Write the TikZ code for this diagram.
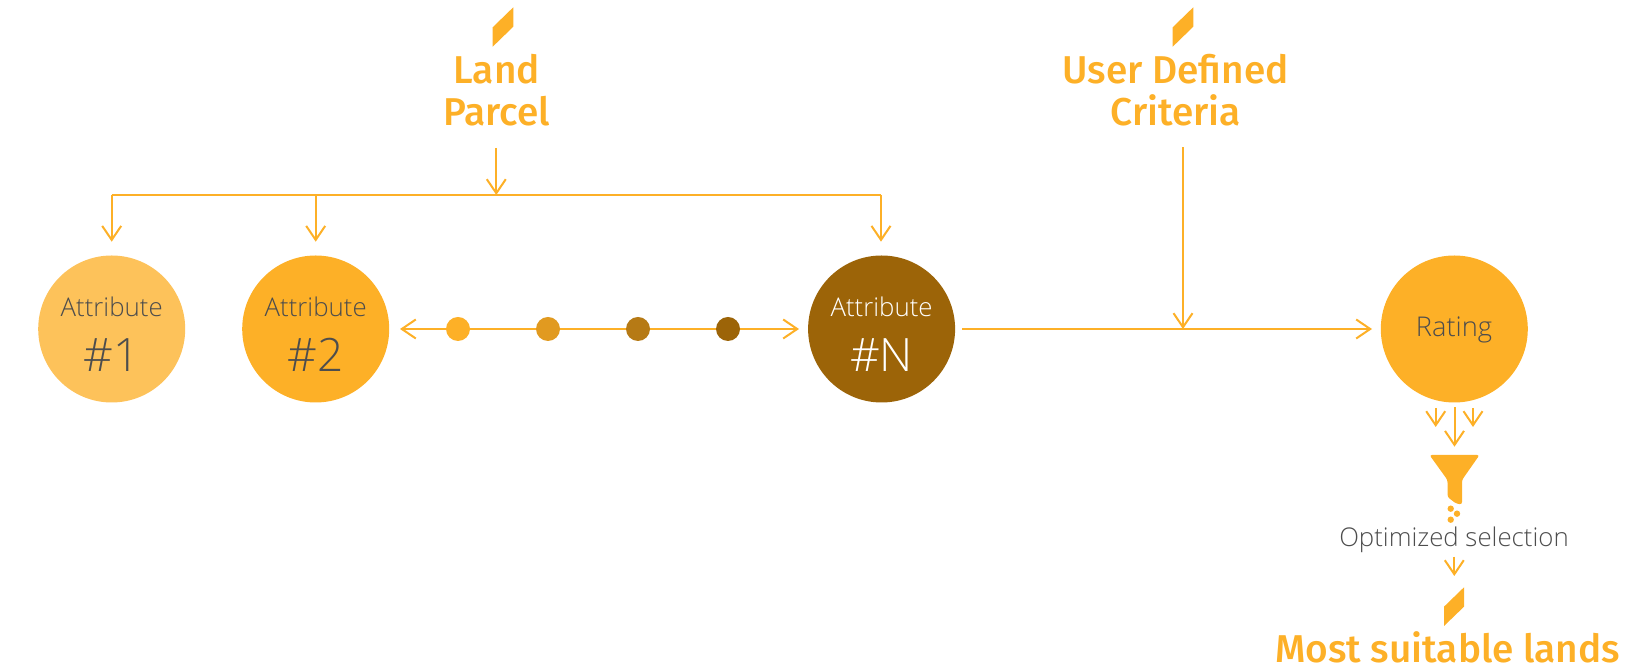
\documentclass[tikz,border=0pt]{standalone}
\usepackage{fontspec}
\setmainfont{Open Sans}
\newfontfamily\lightf{Open Sans Light}
\newfontfamily\medf{Fira Sans Medium}
\usetikzlibrary{arrows.meta}
\definecolor{org}{HTML}{FDB027}
\definecolor{lorg}{HTML}{FDC25A}
\definecolor{brn}{HTML}{9C6408}
\definecolor{dot2}{HTML}{E19A20}
\definecolor{dot3}{HTML}{B67A15}
\definecolor{txt}{HTML}{4D4D4D}
\tikzset{
  link/.style={draw=org,line width=1pt,-{Straight Barb[length=7pt,width=9.5pt,line width=1pt]}},
  plain/.style={draw=org,line width=1pt},
  dblink/.style={draw=org,line width=1pt,{Straight Barb[length=7pt,width=9.5pt,line width=1pt]}-{Straight Barb[length=7pt,width=9.5pt,line width=1pt]}},
  disc/.style={circle,minimum size=73.5pt,inner sep=0pt,outer sep=0pt},
  dotn/.style={circle,minimum size=12pt,inner sep=0pt,outer sep=0pt},
  small/.style={font=\lightf\fontsize{12.9}{14}\selectfont,text=txt,inner sep=0pt},
  big/.style={font=\lightf\fontsize{23}{26}\selectfont,text=txt,inner sep=0pt},
  head/.style={font=\medf\fontsize{19.4}{21}\selectfont,text=org,align=center,inner sep=0pt},
  mark shape/.style={fill=org,draw=none},
}
\begin{document}
\begin{tikzpicture}[x=0.5pt,y=-0.5pt]
\useasboundingbox (0,0) rectangle (1640,672);
% headings
\fill[mark shape] (492.7,27.3) -- (513.3,7.3) -- (513.3,26.7) -- (492.7,46.7) -- cycle;
\node[head,anchor=base] (land) at (496.7,84) {Land};
\node[head,anchor=base] (parcel) at (496.7,126) {Parcel};
\fill[mark shape] (1172.7,27.3) -- (1193.3,7.3) -- (1193.3,26.7) -- (1172.7,46.7) -- cycle;
\node[head,anchor=base] (user) at (1175.7,84) {User De\kern0pt fined};
\node[head,anchor=base] (crit) at (1175.7,126) {Criteria};
\fill[mark shape] (1444,606.7) -- (1464,587.3) -- (1464,606.7) -- (1444,626) -- cycle;
\node[head,anchor=base] (most) at (1447.7,663) {Most suitable lands};
% discs
\node[disc,fill=lorg] (a1) at (111.7,329) {};
\node[disc,fill=org] (a2) at (315.7,329) {};
\node[disc,fill=brn] (an) at (881.6,329) {};
\node[disc,fill=org] (rate) at (1454.3,329) {};
\node[small,anchor=base] (a1t) at (111.7,317) {Attribute};
\node[big,anchor=base] (a1n) at (111.7,372) {\#1};
\node[small,anchor=base] (a2t) at (315.7,317) {Attribute};
\node[big,anchor=base] (a2n) at (315.7,372) {\#2};
\node[small,anchor=base,text=white] (ant) at (881.6,317) {Attribute};
\node[big,anchor=base,text=white] (ann) at (881.6,372) {\#N};
\node[small,font=\lightf\fontsize{13.6}{15}\selectfont] (ratet) at (1454,329.5) {Rating};
% coordinates
\coordinate (pfrom) at (496.3,148);
\coordinate (bus) at (496.3,195);
\coordinate (busl) at (111.7,195);
\coordinate (busm) at (315.7,195);
\coordinate (busr) at (881,195);
\coordinate (t1) at (111.7,241.7);
\coordinate (t2) at (315.7,241.7);
\coordinate (tn) at (881,241.7);
\coordinate (dl) at (400,329);
\coordinate (dr) at (799,329);
\coordinate (rl) at (962,329);
\coordinate (rr) at (1372,329);
\coordinate (ufrom) at (1183,147.5);
\coordinate (uto) at (1183,329);
% connectors
\draw[link] (pfrom) -- (bus);
\draw[plain] (busl) -- (busr);
\draw[link] (busl) -- (t1);
\draw[link] (busm) -- (t2);
\draw[link] (busr) -- (tn);
\draw[dblink] (dl) -- (dr);
\draw[link] (rl) -- (rr);
\draw[link] (ufrom) -- (uto);
% dots
\node[dotn,fill=org] (d1) at (458,329) {};
\node[dotn,fill=dot2] (d2) at (548,329) {};
\node[dotn,fill=dot3] (d3) at (638,329) {};
\node[dotn,fill=brn] (d4) at (728,329) {};
% funnel arrows
\coordinate (fa) at (1454.5,407);
\coordinate (fb) at (1454.5,446.7);
\coordinate (fc) at (1435.7,408);
\coordinate (fd) at (1435.7,427);
\coordinate (fe) at (1473,408);
\coordinate (ff) at (1473,427);
\draw[link] (fa) -- (fb);
\draw[link] (fc) -- (fd);
\draw[link] (fe) -- (ff);
% funnel
\fill[org,rounded corners=1.2pt] (1429.5,455) -- (1479.5,455) -- (1462,480) -- (1462,504.5) -- (1456,503.5) -- (1447.5,497) -- (1447.5,480) -- cycle;
\fill[org] (1450.7,508.7) circle (1.6pt) (1457,513.7) circle (1.6pt) (1450.7,519.7) circle (1.6pt);
\node[small,anchor=base] (opt) at (1454,547) {Optimized selection};
\coordinate (oa) at (1454.3,556.7);
\coordinate (ob) at (1454.3,576);
\draw[link] (oa) -- (ob);
\end{tikzpicture}
\end{document}
